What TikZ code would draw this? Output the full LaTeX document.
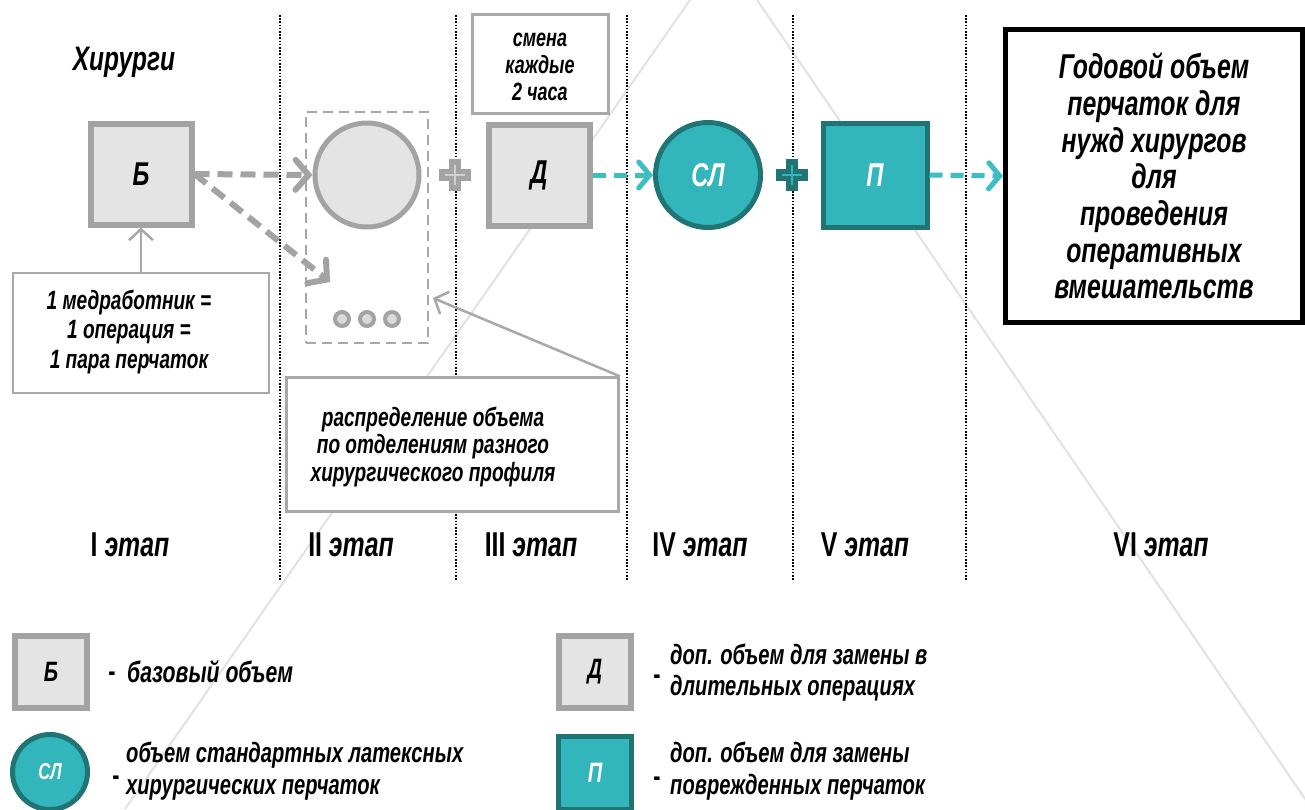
\documentclass[tikz,border=0pt]{standalone}
\usepackage{fontspec}
\setmainfont{Liberation Sans}[FakeStretch=0.72]
\usetikzlibrary{arrows.meta}
\definecolor{gline}{HTML}{A3A3A3}
\definecolor{gfill}{HTML}{E4E4E4}
\definecolor{gthin}{HTML}{A8A8A8}
\definecolor{tealfill}{HTML}{33B6BB}
\definecolor{tealdark}{HTML}{217474}
\definecolor{cyanarrow}{HTML}{3DBEC3}
\definecolor{wmgray}{HTML}{E2E2E2}
\newcommand\sz[2]{\fontsize{#1}{#2}\selectfont}
\tikzset{
  gsquare/.style={draw=gline, line width=6, fill=gfill, minimum size=101, inner sep=0,
    font=\sz{33}{38}\bfseries\itshape},
  gdisc/.style={circle, draw=gline, line width=5, fill=gfill, minimum size=104, inner sep=0},
  tsquare/.style={draw=tealdark, line width=5, fill=tealfill, minimum size=104, inner sep=0,
    text=white, font=\sz{33}{38}\bfseries\itshape},
  tdisc/.style={circle, draw=tealdark, line width=5, fill=tealfill, minimum size=105, inner sep=0,
    text=white, font=\sz{33}{38}\bfseries\itshape},
  frame/.style={draw=gthin, line width=2.5, fill=white, inner sep=0},
  plain/.style={align=center, inner sep=0, font=\sz{26.5}{30}\bfseries\itshape},
  stage/.style={inner sep=0, font=\sz{34.5}{40}\bfseries},
  dashmark/.style={inner sep=0, font=\sz{30}{32}\bfseries},
  legtext/.style={anchor=west, align=left, inner sep=0, font=\sz{28}{31.5}\bfseries\itshape},
  divider/.style={line width=1.6, dash pattern=on 1.6 off 1.6, black},
  garrow/.style={draw=gline, line width=6, dash pattern=on 15 off 8,
    -{Straight Barb[length=13,width=30,line cap=round]}},
  carrow/.style={draw=cyanarrow, line width=5, dash pattern=on 13 off 8,
    -{Straight Barb[length=11,width=26,line cap=round]}},
  thinarrow/.style={draw=gthin, line width=2.5,
    -{Straight Barb[length=11,width=24]}},
  wmline/.style={draw=wmgray, line width=2},
  dot/.style={circle, draw=gline, line width=4, fill=gfill!90!gray, minimum size=14, inner sep=0},
  pics/plusmark/.style n args={2}{code={
    \draw[#1, line width=12] (-16,0) -- (16,0) (0,-16) -- (0,16);
    \draw[#2, line width=2] (-10,0) -- (10,0) (0,-10) -- (0,10);
  }}
}
\begin{document}
\begin{tikzpicture}[x=1pt, y=-1pt]
\clip (0,0) rectangle (1305,809);
\fill[white] (0,0) rectangle (1305,809);

% faint diagonal guide lines in the background
\draw[wmline] (690,0) -- (125,809);
\draw[wmline] (757,0) -- (1312,809);

% stage dividers
\foreach \x in {280,456,627,793,966}
  \draw[divider] (\x,15) -- (\x,580);

% stage I
\node[plain, font=\sz{34}{40}\bfseries\itshape] (surg) at (124,62) {Хирурги};
\node[gsquare] (B) at (141,174) {Б};
\node[frame, minimum width=256, minimum height=120] (rule) at (141,333) {};
\node[plain, font=\sz{26.5}{29.5}\bfseries\itshape] (ruletext) at (129,332)
  {1 медработник =\\1 операция =\\1 пара перчаток};
\draw[thinarrow] (rule.north) -- (B.south);

% stage II
\node[draw=gthin, line width=2.5, dash pattern=on 10 off 6, minimum width=122, minimum height=231, inner sep=0]
  (group) at (367,227.5) {};
\node[gdisc] (C) at (367,175) {};
\node[dot] (d1) at (342,319) {};
\node[dot] (d2) at (367,319) {};
\node[dot] (d3) at (392,319) {};
\coordinate (split) at (330,282);
\draw[garrow] (B.east) -- (C.west);
\draw[garrow] (B.east) -- (split);
\node[frame, minimum width=332, minimum height=134] (distr) at (452.5,444.5) {};
\node[plain, font=\sz{26.5}{27.5}\bfseries\itshape] (distrtext) at (433,447)
  {распределение объема\\по отделениям разного\\хирургического профиля};
\coordinate (distrtip) at (433,298);
\draw[thinarrow] (distr.north east) -- (distrtip);

% stage III
\pic at (455,175) {plusmark={gline}{gfill!80!gray}};
\node[frame, minimum width=136, minimum height=99] (shift) at (540.5,64) {};
\node[plain, font=\sz{25}{27}\bfseries\itshape] (shifttext) at (540,67)
  {смена\\каждые\\2 часа};
\node[gsquare] (D) at (539,175) {Д};

% stage IV
\node[tdisc] (SL) at (708,175) {СЛ};
\draw[carrow] (D.east) -- (SL.west);

% stage V
\pic at (792,175) {plusmark={tealdark}{tealfill}};
\node[tsquare] (P) at (875,175) {П};

% stage VI
\node[draw=black, line width=5, minimum width=297, minimum height=293, inner sep=0,
  align=center, font=\sz{34.5}{36.7}\bfseries\itshape] (total) at (1154,176)
  {Годовой объем\\перчаток для\\нужд хирургов\\для\\проведения\\оперативных\\вмешательств};
\draw[carrow] (P.east) -- (total.west);

% stage captions
\node[stage] (s1) at (130,545) {I {\itshape этап}};
\node[stage] (s2) at (351,545) {II {\itshape этап}};
\node[stage] (s3) at (531,545) {III {\itshape этап}};
\node[stage] (s4) at (700,545) {IV {\itshape этап}};
\node[stage] (s5) at (865,545) {V {\itshape этап}};
\node[stage] (s6) at (1161,545) {VI {\itshape этап}};

% legend
\node[gsquare, minimum size=72, font=\sz{28}{32}\bfseries\itshape] (lB) at (51,671.5) {Б};
\node[dashmark] (lBd) at (112,677) {-};
\node[legtext, font=\sz{29.5}{32}\bfseries\itshape] (lBt) at (127,672) {базовый объем};

\node[gsquare, minimum size=72, font=\sz{28}{32}\bfseries\itshape] (lD) at (595,671.5) {Д};
\node[dashmark] (lDd) at (657,680) {-};
\node[legtext] (lDt) at (670,672.5)
  {доп. объем для замены в\\длительных операциях};

\node[tdisc, minimum size=75, font=\sz{23}{27}\bfseries\itshape] (lSL) at (50,772) {СЛ};
\node[dashmark] (lSLd) at (116,781) {-};
\node[legtext] (lSLt) at (126,771)
  {объем стандартных латексных\\хирургических перчаток};

\node[tsquare, minimum size=73, font=\sz{28}{32}\bfseries\itshape] (lP) at (595,772.5) {П};
\node[dashmark] (lPd) at (657,782) {-};
\node[legtext] (lPt) at (670,771)
  {доп. объем для замены\\поврежденных перчаток};
\end{tikzpicture}
\end{document}
